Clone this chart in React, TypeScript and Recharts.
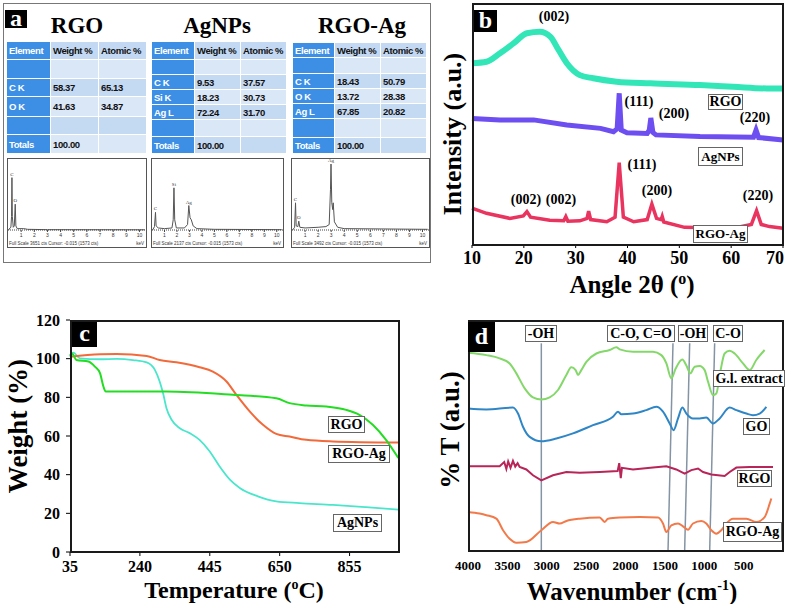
import React from 'react';
import { LineChart, Line, XAxis, YAxis, ReferenceLine, ReferenceDot } from 'recharts';

const SERIF = "'Liberation Serif', 'Times New Roman', serif";
const SANS = "'Liberation Sans', Arial, sans-serif";

// ---- panel a: EDS tables + spectra
const edsHeader = ['Element', 'Weight %', 'Atomic %'];
const edsRgoRows = [['', '', ''], ['C K', '58.37', '65.13'], ['O K', '41.63', '34.87'], ['', '', ''], ['Totals', '100.00', '']];
const edsAgRows = [['', '', ''], ['C K', '9.53', '37.57'], ['Si K', '18.23', '30.73'], ['Ag L', '72.24', '31.70'], ['', '', ''], ['Totals', '100.00', '']];
const edsRgoAgRows = [['', '', ''], ['C K', '18.43', '50.79'], ['O K', '13.72', '28.38'], ['Ag L', '67.85', '20.82'], ['', '', ''], ['Totals', '100.00', '']];

const edsRgo = [[0.05, 0], [0.15, 3], [0.22, 4], [0.27, 20], [0.3, 77], [0.33, 20], [0.4, 4], [0.48, 6], [0.55, 38], [0.6, 6], [0.7, 2], [1.2, 2], [1.5, 1], [3, 0.5], [10.4, 0.3]];
const edsAg = [[0.05, 0], [0.2, 5], [0.28, 26], [0.33, 6], [0.5, 3], [1.0, 2], [1.6, 3], [1.7, 15], [1.76, 62], [1.82, 15], [1.95, 3], [2.6, 3], [2.85, 8], [2.95, 36], [3.05, 18], [3.15, 15], [3.3, 6], [3.6, 2], [5, 1], [10.4, 0.5]];
const edsRgoAg = [[0.05, 0], [0.2, 4], [0.27, 40], [0.32, 6], [0.45, 5], [0.52, 13], [0.6, 4], [1.0, 3], [2.0, 4], [2.6, 5], [2.85, 8], [2.95, 60], [2.99, 97], [3.05, 40], [3.12, 30], [3.16, 40], [3.25, 12], [3.5, 4], [4, 2], [10.4, 1]];
const edsRgoPeaks: [number, number, string][] = [[0.3, 77, 'C'], [0.55, 38, 'O']];
const edsAgPeaks: [number, number, string][] = [[0.28, 26, 'C'], [1.76, 62, 'Si'], [2.95, 36, 'Ag']];
const edsRgoAgPeaks: [number, number, string][] = [[0.27, 40, 'C'], [0.52, 13, 'O'], [2.99, 97, 'Ag']];
const kevTicks = [1, 2, 3, 4, 5, 6, 7, 8, 9, 10];

// ---- panel b: XRD (2theta, intensity a.u.)
const xrdRgo = [[10, 75.1], [12.8, 75.7], [15.4, 79.2], [18, 83.3], [20.6, 87.5], [23.1, 88.1], [25.1, 86.1], [26.7, 80.6], [28.3, 75.1], [30.8, 70.2], [33.4, 68.9], [37.9, 67.5], [44.4, 66.8], [54, 66.1], [60.4, 65.4], [66.9, 64.7], [70, 64.7]];
const xrdAg = [[10, 52.3], [15.4, 51.7], [21.9, 51.7], [28.3, 49.6], [34.8, 48.2], [37.3, 46.8], [38.0, 48], [38.4, 62.7], [38.8, 47.5], [39.9, 46.4], [43.8, 46.1], [44.2, 47.5], [44.5, 52.5], [44.9, 46.5], [45.5, 45.5], [54, 44.8], [64.3, 44.5], [64.8, 47.5], [65.3, 44.4], [70, 43.4]];
const xrdRgoAg = [[10, 15.2], [12.8, 13.1], [17.3, 11], [19.9, 12], [20.6, 13.8], [21.3, 11.5], [25, 10.2], [27.7, 10], [28.1, 11.7], [28.5, 9.8], [30.8, 10], [32.2, 11], [32.5, 14], [32.9, 10.5], [36, 9.6], [37.6, 11.5], [38.4, 34], [39.2, 11.5], [41.2, 9.6], [43.8, 10.5], [44.7, 16.9], [45.6, 11], [46.5, 10.5], [46.7, 11.8], [47, 9.5], [51, 7.3], [60.4, 6.9], [63.9, 8.5], [64.9, 14.2], [65.8, 8.5], [67.4, 7.6], [70, 6.9]];
const xrdTicks = [10, 20, 30, 40, 50, 60, 70];

// ---- panel c: TGA (temperature C, weight %)
const tgaRgo = [[35, 101.5], [40, 102.8], [54, 99.3], [89, 98.5], [108, 95.9], [123, 92.5], [133, 85.6], [140, 83], [162, 83], [318, 83], [513, 81.3], [640, 79.5], [679, 77], [728, 75.8], [787, 75.2], [845, 73.5], [884, 70.9], [923, 65.8], [962, 58], [998, 48.6]];
const tgaRgoAg = [[35, 101], [123, 102.3], [172, 102.4], [260, 101.4], [298, 99.3], [347, 98.1], [415, 95.6], [454, 93.3], [494, 88.2], [523, 81.3], [562, 72.7], [601, 65.8], [640, 61.1], [679, 59.7], [728, 58], [806, 57.2], [998, 56.6]];
const tgaAg = [[35, 101], [45, 103.1], [64, 100.2], [123, 99.7], [172, 99.9], [220, 99.3], [260, 98.1], [284, 94.2], [298, 88.2], [308, 82.1], [318, 74.4], [333, 68.4], [357, 64], [386, 61.5], [415, 58], [445, 52], [474, 44.2], [504, 37.4], [533, 33.1], [586, 28.8], [640, 26.2], [708, 25.3], [806, 24.4], [903, 23.2], [998, 21.9]];
const tgaXTicks = [35, 240, 445, 650, 855];
const tgaYTicks = [0, 20, 40, 60, 80, 100, 120];

// ---- panel d: FTIR (wavenumber, offset %T)
const ftirExtract = [[4000, 85.8], [3767, 84.8], [3598, 83.4], [3471, 81.2], [3386, 76.9], [3280, 70.4], [3175, 66.5], [3069, 65.6], [2963, 66.5], [2857, 69.7], [2751, 76.2], [2688, 79.5], [2633, 78.3], [2603, 76.2], [2561, 78.3], [2497, 81.9], [2370, 85.5], [2201, 87], [2116, 88.2], [2074, 87.3], [1905, 86.3], [1651, 86.3], [1545, 84.8], [1481, 81.2], [1418, 74.7], [1363, 79], [1278, 82.9], [1227, 80.3], [1177, 76.9], [1122, 79.8], [1058, 80.1], [995, 78.3], [952, 73.3], [889, 67.5], [847, 68.2], [796, 77.6], [741, 85.5], [677, 86.7], [614, 85.5], [508, 81.2], [423, 78.3], [339, 82.7], [233, 87]];
const ftirGo = [[4000, 61.7], [3767, 61.3], [3429, 62.1], [3365, 59.5], [3302, 53.8], [3217, 49.4], [3069, 47.5], [2878, 48.7], [2667, 50.9], [2413, 54.5], [2159, 58.1], [2095, 60.3], [2053, 59.2], [1905, 59.5], [1735, 61], [1608, 62.4], [1524, 60.3], [1439, 55.2], [1389, 52.3], [1333, 57.4], [1278, 62.1], [1227, 59.5], [1143, 57.4], [1058, 57.4], [974, 57.8], [889, 55.2], [804, 57.4], [677, 62.1], [592, 61], [465, 59.5], [381, 58.8], [296, 59.5], [211, 62.4]];
const ftirRgo = [[4000, 36.7], [3598, 36.7], [3540, 38.5], [3513, 35.5], [3490, 38.8], [3460, 36], [3429, 39], [3400, 36.5], [3370, 38], [3344, 36.4], [3259, 35.3], [3175, 32.8], [3069, 30.6], [2921, 32.8], [2751, 34.2], [2582, 33.9], [2328, 34.2], [2100, 34.6], [2080, 38], [2060, 31.5], [2045, 36], [1905, 35.3], [1651, 36.1], [1481, 36.7], [1355, 35.3], [1249, 33.5], [1164, 35], [1079, 35.7], [1016, 34.2], [910, 33.1], [825, 32.8], [741, 32.5], [677, 34.2], [592, 36.1], [423, 36.4], [127, 36.4]];
const ftirRgoAg = [[4000, 16.9], [3852, 16.2], [3767, 15.5], [3640, 14], [3555, 9], [3471, 5.3], [3386, 3.6], [3259, 3.9], [3069, 9], [2921, 12.6], [2836, 11.9], [2751, 13], [2582, 14], [2328, 14.5], [2264, 12.6], [2222, 14], [2074, 14.5], [1820, 14.7], [1587, 14.5], [1524, 11.9], [1481, 8.2], [1418, 11.1], [1333, 11.9], [1270, 10.7], [1206, 9.2], [1143, 11.9], [1037, 13], [974, 11.9], [910, 9], [847, 7.5], [783, 9], [720, 11.9], [635, 14], [465, 14], [339, 12.6], [233, 14.7], [169, 20.5], [148, 22.7]];
const ftirMarkers = [[3069, 3069], [1397, 1460], [1185, 1249], [868, 931]]; // [wn at top, wn at bottom]
const ftirTicks = [4000, 3500, 3000, 2500, 2000, 1500, 1000, 500];

const pts = (a: number[][]) => a.map(([x, y]) => ({ x, y }));

const Abs = ({ x, y, w, h, style, children }: any) => (
  <div style={{ position: 'absolute', left: x, top: y, width: w, height: h, ...style }}>{children}</div>
);

const CText = ({ cx, cy, size, rotate, children, weight = 'bold', family = SERIF }: any) => (
  <div
    style={{
      position: 'absolute', left: cx, top: cy, whiteSpace: 'nowrap', fontFamily: family, fontWeight: weight,
      fontSize: size, lineHeight: 1, color: '#000',
      transform: `translate(-50%, -50%)${rotate ? ` rotate(${rotate}deg)` : ''}`,
    }}
  >
    {children}
  </div>
);

const BoxLabel = ({ x, y, w, h, size = 14, children }: any) => (
  <Abs x={x} y={y} w={w} h={h} style={{
    boxSizing: 'border-box', border: '1px solid #666', background: '#fff', display: 'flex',
    alignItems: 'center', justifyContent: 'center', fontFamily: SERIF, fontWeight: 'bold', fontSize: size, whiteSpace: 'nowrap',
  }}>{children}</Abs>
);

const Tag = ({ x, y, w, h, letter }: any) => (
  <Abs x={x} y={y} w={w} h={h} style={{
    background: '#000', color: '#fff', display: 'flex', alignItems: 'center', justifyContent: 'center',
    fontFamily: SERIF, fontWeight: 'bold', fontSize: 24, lineHeight: 1, paddingBottom: 3, boxSizing: 'border-box',
  }}>{letter}</Abs>
);

const Frame = ({ x, y, w, h }: any) => (
  <Abs x={x} y={y} w={w} h={h} style={{ boxSizing: 'border-box', border: '2px solid #1a1a1a', pointerEvents: 'none' }} />
);

const EdsTable = ({ x, y, cols, rowH, rows }: any) => {
  const all = [edsHeader, ...rows];
  return (
    <div style={{
      position: 'absolute', left: x, top: y, display: 'grid', gap: 1, background: '#fff',
      gridTemplateColumns: cols.map((c: number) => `${c}px`).join(' '),
      gridTemplateRows: rowH.map((r: number) => `${r}px`).join(' '),
      fontFamily: SANS, fontWeight: 'bold', fontSize: 9.5, letterSpacing: -0.4,
    }}>
      {all.map((r: string[], i: number) =>
        r.map((cell, j) => {
          const dark = j === 0;
          const bg = dark ? '#3d8fe6' : i === 0 ? '#c3d9f3' : i % 2 === 1 ? '#d9e7f7' : '#c4d9f2';
          return (
            <div key={`${i}-${j}`} style={{
              background: bg, color: dark ? '#fff' : '#111', display: 'flex', alignItems: 'center', paddingLeft: 2,
              whiteSpace: 'nowrap', overflow: 'hidden',
            }}>{cell}</div>
          );
        })
      )}
    </div>
  );
};

const Spectrum = ({ x, y, w, data, peaks, fullScale }: any) => (
  <Abs x={x} y={y} w={w} h={90} style={{ boxSizing: 'border-box', border: '1px solid #555', background: '#fff' }}>
    <LineChart width={w - 2} height={88} margin={{ top: 3, right: 0, left: 0, bottom: 7 }}>
      <XAxis type="number" dataKey="x" domain={[0, 10.5]} ticks={kevTicks} height={10} interval={0}
        tick={{ fontSize: 5, fill: '#333', fontFamily: SANS }} tickSize={2} tickMargin={1}
        axisLine={{ stroke: '#444', strokeDasharray: '1 1' }} tickLine={{ stroke: '#444' }} />
      <YAxis hide domain={[0, 100]} />
      <Line data={pts(data)} dataKey="y" type="linear" stroke="#555" strokeWidth={1} dot={false} isAnimationActive={false} />
      {peaks.map(([px, py, t]: any) => (
        <ReferenceDot key={t} x={px} y={py} r={0} ifOverflow="visible"
          label={{ value: t, position: 'top', fontSize: 5, fill: '#333', offset: 2 }} />
      ))}
    </LineChart>
    <div style={{ position: 'absolute', left: 1, bottom: 1, fontSize: 4.5, fontFamily: SANS, color: '#333', whiteSpace: 'nowrap' }}>
      Full Scale {fullScale} cts Cursor: -0.015 (1573 cts)
    </div>
    <div style={{ position: 'absolute', right: 2, bottom: 1, fontSize: 4.5, fontFamily: SANS, color: '#333' }}>keV</div>
  </Abs>
);

const serifTick = (size: number) => ({ fontFamily: SERIF, fontWeight: 'bold', fontSize: size, fill: '#000' });

// last XRD tick sits on the frame edge; pull its label inside the page
const XrdTick = ({ x, y, payload }: any) => (
  <text x={payload.value === 70 ? x - 8 : x} y={y} dy="0.71em" textAnchor="middle"
    fontFamily={SERIF} fontWeight="bold" fontSize={18} fill="#000">{payload.value}</text>
);

export default function App() {
  return (
    <div style={{ position: 'absolute', left: 0, top: 0, width: 787, height: 604, background: '#fff', overflow: 'hidden' }}>
      {/* panel a */}
      <Abs x={3} y={3} w={428} h={260} style={{ boxSizing: 'border-box', border: '1.5px solid #777' }} />
      <Tag x={5} y={10} w={22} h={18} letter="a" />
      <CText cx={77} cy={25} size={23}>RGO</CText>
      <CText cx={217} cy={25} size={23}>AgNPs</CText>
      <CText cx={362} cy={25} size={23}>RGO-Ag</CText>
      <EdsTable x={7} y={42} cols={[43, 47, 47]} rowH={[17, 18, 17, 19, 17, 18]} rows={edsRgoRows} />
      <EdsTable x={152} y={42} cols={[42, 45, 45]} rowH={[17, 14, 14, 14, 14, 16, 16]} rows={edsAgRows} />
      <EdsTable x={293} y={43} cols={[41, 45, 45]} rowH={[14, 15, 14, 14, 14, 18, 15]} rows={edsRgoAgRows} />
      <Spectrum x={7} y={158} w={140} data={edsRgo} peaks={edsRgoPeaks} fullScale={3651} />
      <Spectrum x={151} y={158} w={133} data={edsAg} peaks={edsAgPeaks} fullScale={2137} />
      <Spectrum x={291} y={158} w={139} data={edsRgoAg} peaks={edsRgoAgPeaks} fullScale={3492} />

      {/* panel b: XRD */}
      <Abs x={400} y={0}>
        <LineChart width={387} height={300} margin={{ top: 3, right: 4, left: 72, bottom: 30 }}>
          <XAxis type="number" dataKey="x" domain={[10, 70]} ticks={xrdTicks} interval={0} height={25}
            tick={<XrdTick />} tickSize={3} tickMargin={3} axisLine={false} tickLine={{ stroke: '#000' }} />
          <YAxis hide domain={[0, 100]} />
          <Line data={pts(xrdRgo)} dataKey="y" type="monotone" stroke="#33e6b8" strokeWidth={6} dot={false} isAnimationActive={false} />
          <Line data={pts(xrdAg)} dataKey="y" type="linear" stroke="#6d4ef0" strokeWidth={5} dot={false} isAnimationActive={false} />
          <Line data={pts(xrdRgoAg)} dataKey="y" type="linear" stroke="#e8345e" strokeWidth={3.5} dot={false} isAnimationActive={false} />
        </LineChart>
      </Abs>
      <Frame x={472} y={3} w={312} h={243} />
      <Tag x={474} y={10} w={23} h={22} letter="b" />
      <CText cx={554} cy={17} size={14}>(002)</CText>
      <CText cx={639} cy={102} size={14}>(111)</CText>
      <CText cx={674} cy={114} size={14}>(200)</CText>
      <CText cx={755} cy={118} size={14}>(220)</CText>
      <BoxLabel x={708} y={94} w={35} h={16}>RGO</BoxLabel>
      <BoxLabel x={698} y={147} w={45} h={19} size={13}>AgNPs</BoxLabel>
      <CText cx={642} cy={165} size={14}>(111)</CText>
      <CText cx={657} cy={191} size={14}>(200)</CText>
      <CText cx={526} cy={200} size={14}>(002)</CText>
      <CText cx={561} cy={200} size={14}>(002)</CText>
      <CText cx={758} cy={196} size={14}>(220)</CText>
      <BoxLabel x={693} y={225} w={55} h={18} size={13}>RGO-Ag</BoxLabel>
      <CText cx={453} cy={134} size={26} rotate={-90}>Intensity (a.u.)</CText>
      <CText cx={632} cy={284} size={25}>Angle 2θ (<sup style={{ fontSize: 16 }}>o</sup>)</CText>

      {/* panel c: TGA */}
      <Abs x={0} y={310}>
        <LineChart width={400} height={290} margin={{ top: 10, right: 1, left: 0, bottom: 18 }}>
          <XAxis type="number" dataKey="x" domain={[35, 1000]} ticks={tgaXTicks} interval={0} height={30}
            tick={serifTick(16)} tickSize={4} tickMargin={5} axisLine={false} tickLine={{ stroke: '#000' }} />
          <YAxis type="number" domain={[0, 120]} ticks={tgaYTicks} interval={0} width={70}
            tick={serifTick(16)} tickSize={4} tickMargin={6} axisLine={false} tickLine={{ stroke: '#000' }} />
          <Line data={pts(tgaAg)} dataKey="y" type="monotone" stroke="#4ae6cc" strokeWidth={1.8} dot={false} isAnimationActive={false} />
          <Line data={pts(tgaRgoAg)} dataKey="y" type="monotone" stroke="#f26a3a" strokeWidth={2} dot={false} isAnimationActive={false} />
          <Line data={pts(tgaRgo)} dataKey="y" type="monotone" stroke="#22dd22" strokeWidth={2} dot={false} isAnimationActive={false} />
        </LineChart>
      </Abs>
      <Frame x={70} y={320} w={330} h={233} />
      <Tag x={72} y={322} w={25} h={25} letter="c" />
      <BoxLabel x={328} y={416} w={37} h={17}>RGO</BoxLabel>
      <BoxLabel x={328} y={445} w={62} h={18}>RGO-Ag</BoxLabel>
      <BoxLabel x={333} y={514} w={49} h={18}>AgNPs</BoxLabel>
      <CText cx={18} cy={426} size={27} rotate={-90}>Weight (%)</CText>
      <CText cx={234} cy={590} size={24}>Temperature (<sup style={{ fontSize: 14 }}>o</sup>C)</CText>

      {/* panel d: FTIR */}
      <Abs x={400} y={310}>
        <LineChart width={387} height={294} margin={{ top: 10, right: 4, left: 68, bottom: 28 }}>
          <XAxis type="number" dataKey="x" domain={[0, 4000]} reversed ticks={ftirTicks} interval={0} height={25}
            tick={serifTick(13)} tickSize={4} tickMargin={6} axisLine={false} tickLine={false} />
          <YAxis hide domain={[0, 100]} />
          {ftirMarkers.map(([top, bottom], i) => (
            <ReferenceLine key={i} segment={[{ x: top, y: 89.9 }, { x: bottom, y: 0 }]} stroke="#8494a4" strokeWidth={1.5} />
          ))}
          <Line data={pts(ftirExtract)} dataKey="y" type="monotone" stroke="#84d86a" strokeWidth={2} dot={false} isAnimationActive={false} />
          <Line data={pts(ftirGo)} dataKey="y" type="monotone" stroke="#2f86c6" strokeWidth={2} dot={false} isAnimationActive={false} />
          <Line data={pts(ftirRgo)} dataKey="y" type="linear" stroke="#b82558" strokeWidth={2} dot={false} isAnimationActive={false} />
          <Line data={pts(ftirRgoAg)} dataKey="y" type="monotone" stroke="#f27a4a" strokeWidth={2} dot={false} isAnimationActive={false} />
        </LineChart>
      </Abs>
      <Frame x={468} y={320} w={316} h={232} />
      <Tag x={468} y={322} w={27} h={30} letter="d" />
      <BoxLabel x={525} y={325} w={32} h={17}>-OH</BoxLabel>
      <BoxLabel x={607} y={325} w={68} h={17}>C-O, C=O</BoxLabel>
      <BoxLabel x={678} y={325} w={30} h={17}>-OH</BoxLabel>
      <BoxLabel x={713} y={325} w={30} h={17}>C-O</BoxLabel>
      <BoxLabel x={713} y={370} w={72} h={17}>G.l. extract</BoxLabel>
      <BoxLabel x={743} y={418} w={27} h={17}>GO</BoxLabel>
      <BoxLabel x={737} y={470} w={35} h={17}>RGO</BoxLabel>
      <BoxLabel x={723} y={522} w={59} h={20}>RGO-Ag</BoxLabel>
      <CText cx={450} cy={430} size={27} rotate={-90}>% T (a.u.)</CText>
      <CText cx={632} cy={591} size={25}>Wavenumber (cm<sup style={{ fontSize: 14 }}>-1</sup>)</CText>
    </div>
  );
}
